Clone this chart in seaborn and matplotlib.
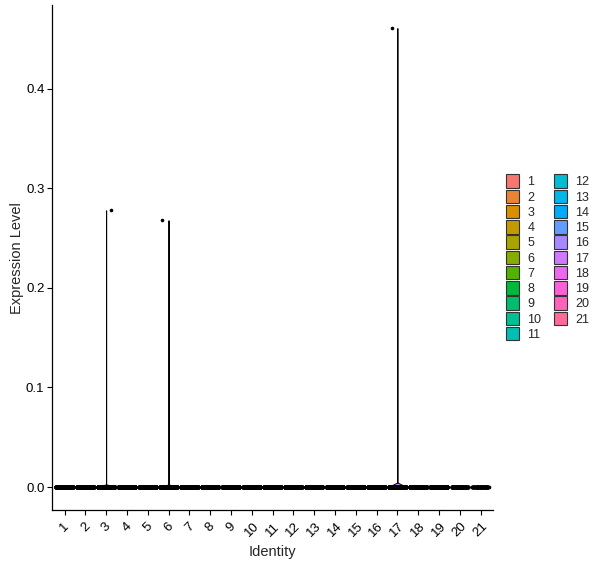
import numpy as np
import pandas as pd
import matplotlib
matplotlib.use("Agg")
import matplotlib.pyplot as plt
import seaborn as sns
from matplotlib.patches import Patch
import warnings
warnings.simplefilter(action='ignore')

# data: clusters, cells per cluster, the single non-zero value
groups = [str(i) for i in range(1, 22)]
n_cells = [1000] * 19 + [150, 100]
max_expr = [0, 0, 0.278, 0, 0, 0.268, 0, 0, 0, 0, 0, 0, 0, 0, 0, 0, 0.461, 0, 0, 0, 0]
y_ticks = [0.0, 0.1, 0.2, 0.3, 0.4]


def hue_pal(n, c=100, l=65):
    # ggplot2 default hue palette (polar LUV -> sRGB)
    hs = np.linspace(15, 375, n + 1)[:-1]
    xn, yn, zn = 95.047, 100.0, 108.883
    un = 4 * xn / (xn + 15 * yn + 3 * zn)
    vn = 9 * yn / (xn + 15 * yn + 3 * zn)
    Y = yn * ((l + 16) / 116) ** 3
    out = []
    for h in hs:
        u = c * np.cos(np.radians(h))
        v = c * np.sin(np.radians(h))
        up = u / (13 * l) + un
        vp = v / (13 * l) + vn
        X = Y * 9 * up / (4 * vp)
        Z = Y * (12 - 3 * up - 20 * vp) / (4 * vp)
        xyz = np.array([X, Y, Z]) / 100
        m = np.array([[3.2404542, -1.5371385, -0.4985314],
                      [-0.9692660, 1.8760108, 0.0415560],
                      [0.0556434, -0.2040259, 1.0572252]])
        rgb = m @ xyz
        rgb = np.where(rgb <= 0.0031308, 12.92 * rgb, 1.055 * np.abs(rgb) ** (1 / 2.4) - 0.055)
        out.append(tuple(np.clip(rgb, 0, 1)))
    return out


colors = hue_pal(len(groups))
pal = dict(zip(groups, colors))

rows = []
for g, n, m in zip(groups, n_cells, max_expr):
    vals = [0.0] * n
    if m > 0:
        vals[0] = m
    rows.append(pd.DataFrame({"Identity": g, "expr": vals}))
df = pd.concat(rows, ignore_index=True)

sns.set_theme(style="ticks")
plt.rcParams['font.family'] = ['Liberation Sans', 'DejaVu Sans']

fig = plt.figure(figsize=(6.0, 5.68), dpi=100)
ax = fig.add_axes([0.0867, 0.102, 0.735, 0.889])

np.random.seed(11)
nz = df[df["Identity"].isin([g for g, m in zip(groups, max_expr) if m > 0])]
sns.violinplot(data=nz, x="Identity", y="expr", order=groups, hue="Identity",
               hue_order=groups, palette=pal, dodge=False, cut=0, inner=None,
               density_norm="width", width=0.9, linewidth=0.7, linecolor="black",
               bw_adjust=0.03, legend=False, ax=ax)
sns.stripplot(data=df, x="Identity", y="expr", order=groups, color="black",
              size=2.6, jitter=0.41, linewidth=0, ax=ax, zorder=3)

ax.set_xlim(-0.6, len(groups) - 0.4)
ax.set_ylim(-0.0231, 0.484)
ax.set_yticks(y_ticks)
ax.set_yticklabels([f"{t:.1f}" for t in y_ticks])
ax.set_xlabel("Identity", fontsize=10.5, labelpad=4)
ax.set_ylabel("Expression Level", fontsize=10.5, labelpad=1)
ax.tick_params(axis="both", labelsize=9.5, length=3.5, width=0.8, color="black",
               labelcolor="black", pad=2)
ax.tick_params(axis="x", pad=4)
plt.setp(ax.get_xticklabels(), rotation=45, ha="center", va="top")
for s in ["top", "right"]:
    ax.spines[s].set_visible(False)
for s in ["left", "bottom"]:
    ax.spines[s].set_color("black")
    ax.spines[s].set_linewidth(0.9)

handles = [Patch(facecolor=c, edgecolor="#333333", linewidth=0.8) for c in colors]
ax.legend(handles, groups, ncol=2, loc="center left", bbox_to_anchor=(1.03, 0.5),
          frameon=False, fontsize=9, handlelength=1.0, handleheight=1.3,
          labelspacing=0.1, columnspacing=1.0, handletextpad=0.7, borderaxespad=0,
          borderpad=0)

fig.savefig("out.png", dpi=100)
